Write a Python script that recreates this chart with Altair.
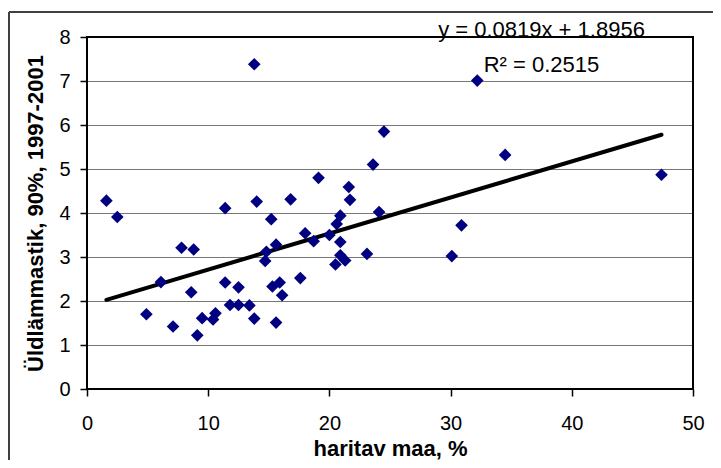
import altair as alt
import pandas as pd

# ---- data ----
x_vals = [1.6, 2.5, 4.9, 6.1, 7.1, 7.8, 8.8, 8.6, 9.1, 9.5,
          10.4, 10.6, 11.4, 11.4, 11.8, 12.5, 12.5, 13.4, 13.8, 13.8,
          14.0, 14.7, 14.8, 15.2, 15.6, 15.3, 15.9, 16.1, 15.6, 16.8,
          17.6, 18.0, 18.7, 19.1, 20.0, 20.6, 20.9, 20.9, 20.5, 20.9,
          21.3, 21.6, 21.7, 23.1, 23.6, 24.1, 24.5, 30.1, 30.9, 32.2,
          34.5, 47.4]
y_vals = [4.28, 3.91, 1.70, 2.43, 1.42, 3.21, 3.17, 2.20, 1.22, 1.61,
          1.58, 1.72, 4.11, 2.42, 1.91, 2.31, 1.91, 1.90, 1.60, 7.38,
          4.26, 2.91, 3.12, 3.86, 3.28, 2.33, 2.42, 2.13, 1.51, 4.31,
          2.52, 3.54, 3.36, 4.80, 3.50, 3.75, 3.94, 3.34, 2.83, 3.04,
          2.92, 4.59, 4.30, 3.07, 5.10, 4.02, 5.85, 3.02, 3.72, 7.01,
          5.32, 4.87]
slope = 0.0819
intercept = 1.8956
eq_text = "y = 0.0819x + 1.8956"
r2_text = "R² = 0.2515"
ann_x = [37.5, 37.5]
ann_y = [8.0, 7.21]
x_ticks = [0, 10, 20, 30, 40, 50]
y_ticks = [0, 1, 2, 3, 4, 5, 6, 7, 8]
x_title = "haritav maa, %"
y_title = "Üldlämmastik, 90%, 1997-2001"

df = pd.DataFrame({"x": x_vals, "y": y_vals})
trend = pd.DataFrame({"x": [min(x_vals), max(x_vals)]})
trend["y"] = slope * trend["x"] + intercept
ann = pd.DataFrame({"x": ann_x, "y": ann_y, "t": [eq_text, r2_text]})

W, H = 606, 352
FONT = "Liberation Sans"

xscale = alt.Scale(domain=[0, 50], nice=False, zero=False)
yscale = alt.Scale(domain=[0, 8], nice=False, zero=False)

x_axis = alt.Axis(values=x_ticks, title=x_title, grid=False, domain=False,
                  ticks=True, tickSize=7, tickWidth=1.5, tickColor="black",
                  labelFontSize=20, labelFont=FONT, labelColor="black",
                  labelPadding=17, labelFlush=False, labelOverlap=False,
                  titleFontSize=22, titleFont=FONT,
                  titleFontWeight="bold", titleColor="black",
                  titleX=W / 2, titleY=66, titleBaseline="alphabetic",
                  titleAlign="center")
y_axis = alt.Axis(values=y_ticks, title=y_title, grid=True, domain=False,
                  gridColor="#777777", gridWidth=1, gridOpacity=1,
                  ticks=True, tickSize=7, tickWidth=1.5, tickColor="black",
                  labelFontSize=20, labelFont=FONT, labelColor="black",
                  labelPadding=10, labelFlush=False, labelOverlap=False,
                  titleFontSize=22, titleFont=FONT,
                  titleFontWeight="bold", titleColor="black",
                  titleX=-45, titleY=H / 2, titleAngle=270,
                  titleBaseline="alphabetic", titleAlign="center")

points = alt.Chart(df).mark_point(shape="diamond", filled=True, color="#000080",
                                  size=160, opacity=1).encode(
    x=alt.X("x:Q", scale=xscale, axis=x_axis),
    y=alt.Y("y:Q", scale=yscale, axis=y_axis),
)

line = alt.Chart(trend).mark_line(color="black", strokeWidth=4, strokeCap="round").encode(
    x=alt.X("x:Q", scale=xscale),
    y=alt.Y("y:Q", scale=yscale),
)

labels = alt.Chart(ann).mark_text(fontSize=22, font=FONT, color="black",
                                  align="center", baseline="alphabetic").encode(
    x=alt.X("x:Q", scale=xscale),
    y=alt.Y("y:Q", scale=yscale),
    text="t:N",
)

frame = alt.Chart(ann).mark_rect(filled=False, stroke="black", strokeWidth=2).encode(
    x=alt.value(0), x2=alt.value(W), y=alt.value(0), y2=alt.value(H)
)

outer_left = alt.Chart(ann).mark_rule(color="#404040", strokeWidth=2).encode(
    x=alt.value(-78), y=alt.value(-25), y2=alt.value(H + 120)
)
outer_top = alt.Chart(ann).mark_rule(color="#404040", strokeWidth=2).encode(
    x=alt.value(-78), x2=alt.value(W + 60), y=alt.value(-25)
)

chart = alt.layer(outer_left, outer_top, line, points, labels, frame).properties(
    width=W, height=H,
    autosize=alt.AutoSizeParams(type="none"),
    padding={"left": 79, "top": 29, "right": 20, "bottom": 71},
    background="white",
).configure_view(stroke=None)

chart.save("out.html", embed_options={"renderer": "svg", "actions": False})
